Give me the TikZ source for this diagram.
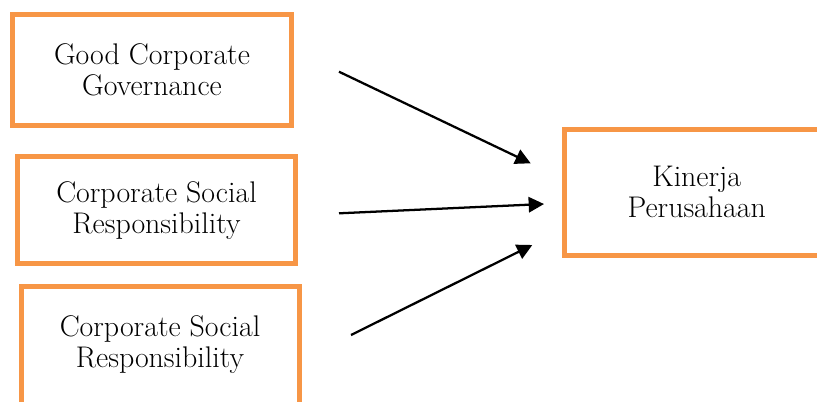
\documentclass[tikz,border=0pt]{standalone}
\usepackage{tikz}
\usetikzlibrary{arrows.meta}
\definecolor{boxorange}{RGB}{247,150,70}

\begin{document}
\begin{tikzpicture}[x=0.75pt,y=-0.75pt,
  varbox/.style={draw=boxorange,line width=3.75pt,align=center,inner sep=0pt,
    font=\fontsize{22.4}{23.25}\selectfont},
  link/.style={-{Triangle[length=11.5pt,width=11.5pt]},line width=1.7pt}]
  \useasboundingbox (0,0) rectangle (817,401);
  \clip (0,0) rectangle (817,401);

  \node[varbox,minimum width=209.25pt,minimum height=83.25pt] (gcg) at (152,70) {Good Corporate\\Governance};
  \node[varbox,minimum width=208.5pt,minimum height=80.6pt] (csra) at (156.5,210.25) {Corporate Social\\Responsibility};
  \node[varbox,minimum width=208.5pt,minimum height=88.5pt] (csrb) at (160,345) {Corporate Social\\Responsibility};
  \node[varbox,minimum width=198pt,minimum height=94.5pt] (kinerja) at (696.7,192) {Kinerja\\Perusahaan};

  % free ends of the arrows
  \coordinate (gcg-out) at (339,71.7);
  \coordinate (csra-out) at (339,213.3);
  \coordinate (csrb-out) at (351,335);
  \coordinate (kin-top) at (530.7,163.3);
  \coordinate (kin-mid) at (544,204);
  \coordinate (kin-bot) at (532.3,245);

  \draw[link] (gcg-out) -- (kin-top);
  \draw[link] (csra-out) -- (kin-mid);
  \draw[link] (csrb-out) -- (kin-bot);
\end{tikzpicture}
\end{document}
